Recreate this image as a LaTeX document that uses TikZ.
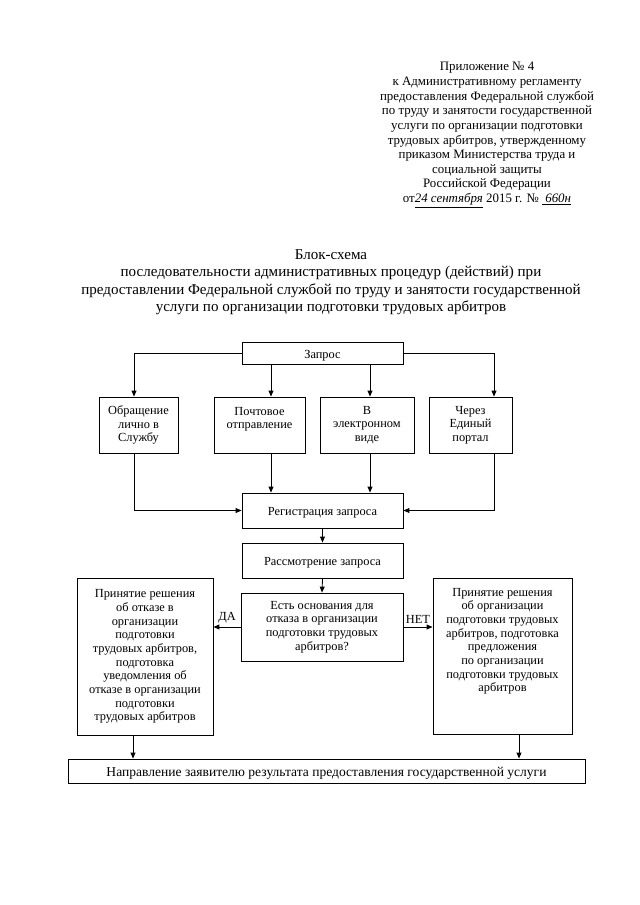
\documentclass[tikz,border=0pt]{standalone}
\usepackage{fontspec}
\setmainfont{Liberation Serif}
\usetikzlibrary{arrows.meta}
\begin{document}
\begin{tikzpicture}[x=0.93pt,y=-0.93pt,
  box/.style={draw, line width=0.8pt, inner sep=0pt, align=center, font=\fontsize{11.5}{12.7}\selectfont},
  sbox/.style={draw, line width=0.8pt, inner sep=0pt, text height=1em, text depth=0pt, font=\fontsize{11.5}{12.7}\selectfont},
  boxtext/.style={align=center, inner sep=0pt, font=\fontsize{11.5}{12.7}\selectfont},
  arr/.style={line width=0.8pt, -{Triangle[length=5.5pt,width=4.5pt]}},
  lbl/.style={inner sep=0pt, font=\fontsize{11.5}{12.7}\selectfont}]
\useasboundingbox[fill=white] (0,0) rectangle (640,905);

% header
\node[align=center, inner sep=0pt, font=\fontsize{12}{13.6}\selectfont] (hdr) at (487,135)
 {Приложение № 4\\
  к Административному регламенту\\
  предоставления Федеральной службой\\
  по труду и занятости государственной\\
  услуги по организации подготовки\\
  трудовых арбитров, утвержденному\\
  приказом Министерства труда и\\
  социальной защиты\\
  Российской Федерации\\
  от\underline{\itshape 24 сентября} 2015 г. № \underline{\itshape\ 660н}};

% title
\node[align=center, inner sep=0pt, font=\fontsize{14}{16.2}\selectfont] (ttl) at (331,282)
 {Блок-схема\\
  последовательности административных процедур (действий) при\\
  предоставлении Федеральной службой по труду и занятости государственной\\
  услуги по организации подготовки трудовых арбитров};

% column coordinates
\coordinate (c1) at (134,0);
\coordinate (c2) at (271,0);
\coordinate (c3) at (370,0);
\coordinate (c4) at (494,0);
\coordinate (cl) at (133,0);
\coordinate (cr) at (519,0);

% boxes
\node[sbox, minimum width=161*0.93pt, minimum height=22*0.93pt] (q) at (322.5,353) {Запрос};

\node[box, minimum width=79*0.93pt, minimum height=56*0.93pt] (a) at (138.5,425) {Обращение\\лично в\\Службу};
\node[box, minimum width=91*0.93pt, minimum height=56*0.93pt] (b) at (259.5,425) {};
\node[boxtext, anchor=north] (bt) at ([yshift=-9.5pt]b.north) {Почтовое\\отправление};
\node[box, minimum width=94*0.93pt, minimum height=56*0.93pt] (c) at (367,425) {В\\электронном\\виде};
\node[box, minimum width=83*0.93pt, minimum height=56*0.93pt] (d) at (470.5,425) {Через\\Единый\\портал};

\node[sbox, minimum width=161*0.93pt, minimum height=35*0.93pt] (reg) at (322.5,510.5) {Регистрация запроса};
\node[sbox, minimum width=161*0.93pt, minimum height=35*0.93pt] (ras) at (322.5,560.5) {Рассмотрение запроса};
\node[box, minimum width=162*0.93pt, minimum height=68*0.93pt] (q2) at (322,627) {Есть основания для\\отказа в организации\\подготовки трудовых\\арбитров?};

\node[box, minimum width=136*0.93pt, minimum height=157*0.93pt] (l) at (145,656.5) {Принятие решения\\об отказе в\\организации\\подготовки\\трудовых арбитров,\\подготовка\\уведомления об\\отказе в организации\\подготовки\\трудовых арбитров};

\node[box, minimum width=139*0.93pt, minimum height=156*0.93pt] (r) at (502.5,656) {};
\node[boxtext, anchor=north] (rt) at ([yshift=-9.5pt]r.north) {Принятие решения\\об организации\\подготовки трудовых\\арбитров, подготовка\\предложения\\по организации\\подготовки трудовых\\арбитров};

\node[sbox, minimum width=517*0.93pt, minimum height=24*0.93pt, font=\fontsize{12.6}{14}\selectfont] (fin) at (326.5,771) {Направление заявителю результата предоставления государственной услуги\hspace{14pt}};

% connectors
\draw[arr] (q.west) -| (a.north -| c1);
\draw[arr] (q.south -| c2) -- (b.north -| c2);
\draw[arr] (q.south -| c3) -- (c.north -| c3);
\draw[arr] (q.east) -| (d.north -| c4);

\draw[arr] (a.south -| c1) |- (reg.west);
\draw[arr] (b.south -| c2) -- (reg.north -| c2);
\draw[arr] (c.south -| c3) -- (reg.north -| c3);
\draw[arr] (d.south -| c4) |- (reg.east);

\draw[arr] (reg.south) -- (ras.north);
\draw[arr] (ras.south) -- (q2.north);

\draw[arr] (q2.west) -- node[lbl, above=3pt] (da) {ДА} (q2.west -| l.east);
\draw[arr] (q2.east) -- node[lbl, above=3pt] (net) {НЕТ} (q2.east -| r.west);

\draw[arr] (l.south -| cl) -- (fin.north -| cl);
\draw[arr] (r.south -| cr) -- (fin.north -| cr);
\end{tikzpicture}
\end{document}
